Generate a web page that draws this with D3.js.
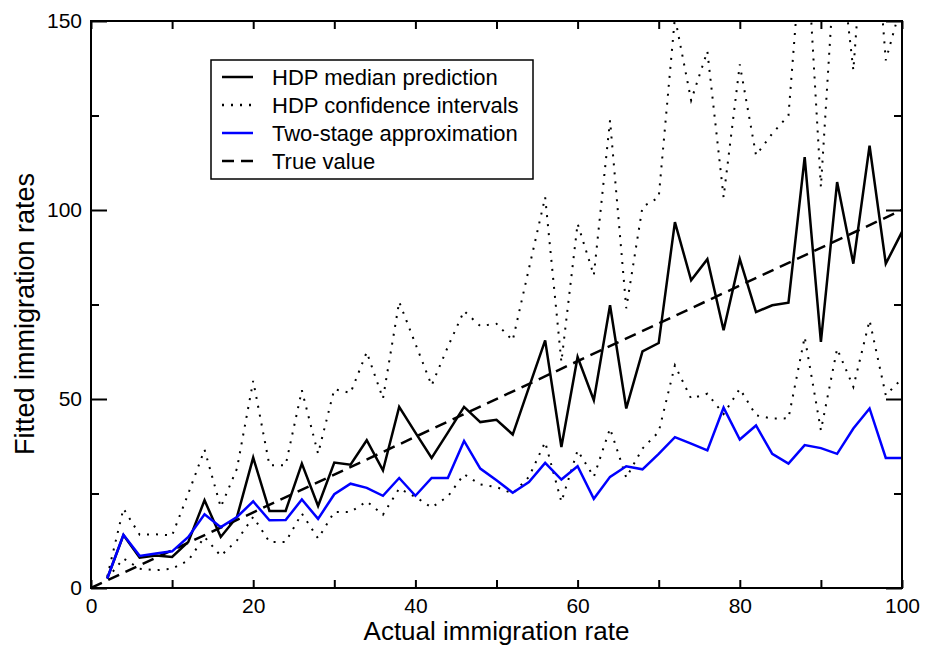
<!DOCTYPE html>
<html>
<head>
<meta charset="utf-8">
<script src="https://cdn.jsdelivr.net/npm/d3@7"></script>
<style>
  body { margin: 0; background: #fff; }
  svg { font-family: "Liberation Sans", Arial, Helvetica, sans-serif; }
</style>
</head>
<body>
<svg id="chart" width="925" height="647"></svg>
<script>
// actual immigration rate (x), 2..100 step 2
const actual = [2, 4, 6, 8, 10, 12, 14, 16, 18, 20, 22, 24, 26, 28, 30, 32, 34, 36, 38, 40,
  42, 44, 46, 48, 50, 52, 54, 56, 58, 60, 62, 64, 66, 68, 70, 72, 74, 76, 78, 80,
  82, 84, 86, 88, 90, 92, 94, 96, 98, 100];

const hdpMedian = [2.5, 14, 8.0, 8.6, 8.2, 12.2, 23.2, 13.5, 18.8, 34.5, 20.4, 20.4, 32.9, 21.7, 33.2, 32.6, 39.1, 31.1, 47.9, 41.1,
  34.4, 41.1, 47.9, 43.9, 44.5, 40.6, 53.1, 65.5, 37.3, 61.1, 49.7, 74.8, 47.5, 62.6, 64.8, 96.8, 81.4, 87.0, 68.2, 87.0,
  73.0, 74.8, 75.5, 114, 65.1, 107.4, 85.8, 117, 85.8, 94.2];

const hdpUpper = [3, 21.0, 14.1, 14.2, 13.9, 25, 36.6, 21.4, 31.6, 54.8, 32.5, 32.5, 52.3, 35.5, 52.6, 51.6, 62.4, 50.1, 75.7, 64.6,
  53.6, 63.8, 73.3, 69.3, 69.9, 65.5, 84.5, 103.4, 59.8, 96.4, 82.7, 123.7, 74, 100.8, 103.3, 151, 129, 142, 103.4, 138.5,
  114.5, 120.2, 125, 180, 106.1, 175, 137, 195, 139.6, 155];

const hdpLower = [2.5, 7.8, 5.1, 4.7, 5.1, 7.3, 13.5, 8.5, 12.6, 18.8, 12.2, 12.2, 19.7, 13.1, 20.1, 20.1, 22.9, 19.4, 26.3, 24.1,
  21.3, 24.2, 30.1, 27.4, 26.7, 25.0, 29.4, 38.6, 22.8, 36.4, 29.4, 42.2, 29.2, 36.9, 41.3, 58.9, 50.1, 51.4, 46, 52.7,
  45.7, 44.8, 44.9, 66.4, 41.7, 63.3, 53.2, 70.8, 51.0, 55.4];

const twoStage = [2.5, 14.1, 8.5, 9.1, 9.7, 13.5, 19.5, 16.1, 18.8, 22.9, 17.9, 18.0, 23.4, 18.3, 24.8, 27.6, 26.5, 24.4, 29.1, 24.4,
  29.1, 29.1, 38.9, 31.6, 28.5, 25.2, 28.0, 33.1, 28.7, 32.2, 23.6, 29.4, 32.2, 31.4, 35.5, 39.9, 38.2, 36.4, 47.7, 39.3,
  43.0, 35.5, 32.9, 37.8, 37.0, 35.5, 42.2, 47.5, 34.4, 34.4];

const trueLine = [[0, 0], [100, 100]];

const xTicks = [0, 20, 40, 60, 80, 100];
const xMinor = [10, 30, 50, 70, 90];
const yTicks = [0, 50, 100, 150];
const yMinor = [25, 75, 125];

const legendItems = [
  { label: "HDP median prediction", color: "#000", dash: null },
  { label: "HDP confidence intervals", color: "#000", dash: "2,7" },
  { label: "Two-stage approximation", color: "#0000ff", dash: null },
  { label: "True value", color: "#000", dash: "12,7" }
];

const svg = d3.select("#chart");
const margin = { top: 21, right: 23, bottom: 59, left: 91 };
const width = 925 - margin.left - margin.right;
const height = 647 - margin.top - margin.bottom;

const x = d3.scaleLinear().domain([0, 100]).range([0, width]);
const y = d3.scaleLinear().domain([0, 150]).range([height, 0]);

const chart = svg.append("g")
  .attr("transform", `translate(${margin.left},${margin.top})`);

chart.append("clipPath").attr("id", "clip")
  .append("rect").attr("width", width).attr("height", height);

const plot = chart.append("g").attr("clip-path", "url(#clip)");

const line = d3.line().x(d => x(d[0])).y(d => y(d[1]));
const pairs = arr => actual.map((a, i) => [a, arr[i]]);

// confidence intervals (dotted)
[hdpUpper, hdpLower].forEach(s => {
  plot.append("path")
    .attr("d", line(pairs(s)))
    .attr("fill", "none")
    .attr("stroke", "#000")
    .attr("stroke-width", 2)
    .attr("stroke-dasharray", "2,7");
});

// true value (dashed)
plot.append("path")
  .attr("d", line(trueLine))
  .attr("fill", "none")
  .attr("stroke", "#000")
  .attr("stroke-width", 2.5)
  .attr("stroke-dasharray", "12,7");

plot.append("path")
  .attr("d", line(pairs(hdpMedian)))
  .attr("fill", "none")
  .attr("stroke", "#000")
  .attr("stroke-width", 2.5);

plot.append("path")
  .attr("d", line(pairs(twoStage)))
  .attr("fill", "none")
  .attr("stroke", "#0000ff")
  .attr("stroke-width", 2.5);

// axes on all four sides, ticks pointing inwards
const tickStyle = g => {
  g.select(".domain").remove();
  g.selectAll("line").attr("stroke", "#000").attr("stroke-width", 2);
  g.selectAll("text").attr("font-size", 21).attr("fill", "#000");
};

chart.append("g").attr("transform", `translate(0,${height})`)
  .call(d3.axisBottom(x).tickValues(xTicks).tickSizeInner(-8).tickSizeOuter(0).tickPadding(10))
  .call(tickStyle);
chart.append("g").attr("transform", `translate(0,${height})`)
  .call(d3.axisBottom(x).tickValues(xMinor).tickSizeInner(-8).tickSizeOuter(0).tickFormat(""))
  .call(tickStyle);
chart.append("g")
  .call(d3.axisTop(x).tickValues(xTicks.concat(xMinor)).tickSizeInner(-8).tickSizeOuter(0).tickFormat(""))
  .call(tickStyle);

chart.append("g")
  .call(d3.axisLeft(y).tickValues(yTicks).tickSizeInner(-16).tickSizeOuter(0).tickPadding(9))
  .call(tickStyle);
chart.append("g")
  .call(d3.axisLeft(y).tickValues(yMinor).tickSizeInner(-8).tickSizeOuter(0).tickFormat(""))
  .call(tickStyle);
chart.append("g").attr("transform", `translate(${width},0)`)
  .call(d3.axisRight(y).tickValues(yTicks).tickSizeInner(-16).tickSizeOuter(0).tickFormat(""))
  .call(tickStyle);
chart.append("g").attr("transform", `translate(${width},0)`)
  .call(d3.axisRight(y).tickValues(yMinor).tickSizeInner(-8).tickSizeOuter(0).tickFormat(""))
  .call(tickStyle);

// frame
chart.append("rect")
  .attr("width", width).attr("height", height)
  .attr("fill", "none").attr("stroke", "#000").attr("stroke-width", 2);

// axis titles
svg.append("text")
  .attr("x", margin.left + width / 2)
  .attr("y", 640)
  .attr("text-anchor", "middle")
  .attr("font-size", 26)
  .text("Actual immigration rate");

svg.append("text")
  .attr("transform", "translate(34,314) rotate(-90)")
  .attr("text-anchor", "middle")
  .attr("font-size", 27)
  .text("Fitted immigration rates");

// legend
const legend = svg.append("g").attr("transform", "translate(211,60)");
legend.append("rect")
  .attr("width", 322).attr("height", 119)
  .attr("fill", "#fff").attr("stroke", "#000").attr("stroke-width", 1.5);

const items = legend.selectAll(".legend-item")
  .data(legendItems)
  .enter()
  .append("g")
  .attr("class", "legend-item")
  .attr("transform", (d, i) => `translate(0,${17 + i * 28})`);

items.append("line")
  .attr("x1", 11).attr("x2", 42)
  .attr("stroke", d => d.color)
  .attr("stroke-width", 2.5)
  .attr("stroke-dasharray", d => d.dash);

items.append("text")
  .attr("x", 61)
  .attr("dy", "0.35em")
  .attr("font-size", 22)
  .text(d => d.label);
</script>
</body>
</html>
